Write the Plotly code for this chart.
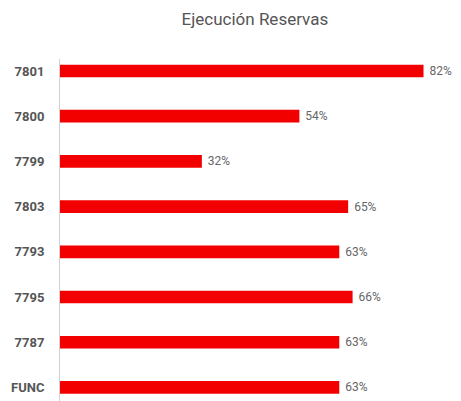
import plotly.graph_objects as go

categories = ["7801", "7800", "7799", "7803", "7793", "7795", "7787", "FUNC"]
values = [82, 54, 32, 65, 63, 66, 63, 63]
labels = ["82%", "54%", "32%", "65%", "63%", "66%", "63%", "63%"]

fig = go.Figure(
    go.Bar(
        y=categories,
        x=values,
        orientation="h",
        width=0.28,
        marker=dict(color="#f20000", line=dict(width=0)),
        text=labels,
        texttemplate="\u00a0%{text}",
        textposition="outside",
        constraintext="none",
        textfont=dict(family="Roboto", size=12, color="#666666"),
        cliponaxis=False,
        hoverinfo="skip",
    )
)

fig.update_layout(
    width=453,
    height=393,
    margin=dict(l=52, r=10, t=51, b=0),
    paper_bgcolor="white",
    plot_bgcolor="white",
    showlegend=False,
    title=dict(
        text="Ejecución Reservas",
        x=0.545,
        xanchor="center",
        y=0.972,
        yanchor="middle",
        font=dict(family="Roboto", size=17, color="#555555"),
    ),
    xaxis=dict(
        range=[0, 88.2],
        showgrid=False,
        zeroline=False,
        showticklabels=False,
        showline=False,
        fixedrange=True,
    ),
    yaxis=dict(
        type="category",
        categoryorder="array",
        categoryarray=categories,
        range=[7.30, -0.265],
        showgrid=False,
        zeroline=False,
        showline=True,
        linecolor="#d0d0d0",
        linewidth=1,
        ticks="",
        ticklabelstandoff=12,
        tickfont=dict(family="Roboto", size=13, color="#555555", weight="bold"),
        fixedrange=True,
    ),
)

fig.write_html("out.html")
